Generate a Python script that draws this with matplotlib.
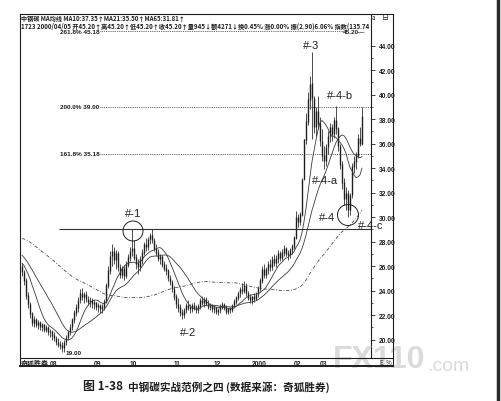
import matplotlib
matplotlib.use("Agg")
import matplotlib.pyplot as plt
import pandas as pd
from matplotlib.patches import Circle

plt.rcParams["font.family"] = ["Noto Sans CJK SC", "DejaVu Sans"]

W, H = 501, 402
INK = "#1e1e1e"

# closes before the first shown bar, only there so the averages start warm
warmup_closes = [
    27.6, 28.0, 28.4, 28.9, 29.3, 29.0, 29.5, 29.9, 29.4, 29.8,
    29.2, 29.6, 29.1, 28.7, 29.2, 28.8, 29.3, 28.9, 28.6, 29.0,
    29.4, 28.9, 29.2, 29.6, 29.9, 29.3, 28.8, 29.2, 28.7, 28.4,
    29.0, 28.6, 28.9, 28.5, 28.8, 29.1, 28.7, 28.4, 28.9, 28.6,
    28.2, 28.6, 28.3, 28.0,
    28.4, 28.1, 27.8, 28.0, 27.5, 27.2, 27.6, 27.1, 26.8, 27.2,
    26.7, 26.5, 26.9, 26.4, 26.1, 26.5, 26.2, 25.9, 26.3, 26.0,
]

opens = [
    26.0, 25.5, 24.8, 23.6, 22.9, 22.1, 21.4, 21.6, 21.2, 21.4,
    21.0, 21.2, 20.8, 21.0, 20.6, 20.7, 20.3, 20.1, 19.8, 19.6,
    19.5, 19.3, 19.8, 20.2, 20.6, 21.0, 21.6, 22.2, 22.6, 23.2,
    23.8, 23.5, 23.7, 23.3, 23.1, 23.2, 22.9, 23.0, 22.7, 22.8,
    22.5, 22.7, 23.1, 24.4, 25.6, 26.8, 27.2, 26.5, 27.0, 25.9,
    25.3, 25.8, 25.2, 26.1, 26.7, 27.2, 27.4, 26.7, 26.2, 25.9,
    26.5, 27.1, 27.8, 27.6, 28.2, 28.5, 28.1, 27.4, 27.1, 26.6,
    26.8, 26.1, 25.8, 25.6, 25.0, 24.7, 24.1, 23.5, 22.9, 22.6,
    22.2, 22.0, 22.4, 22.8, 22.6, 22.5, 22.8, 22.6, 22.4, 22.7,
    23.2, 23.0, 23.3, 22.9, 22.7, 22.8, 22.5, 22.6, 22.3, 22.4,
    22.7, 22.9, 22.6, 22.3, 22.5, 22.4, 22.8, 23.1, 23.4, 23.8,
    24.1, 24.0, 24.4, 23.8, 23.4, 23.2, 23.5, 23.3, 23.7, 24.2,
    24.8, 25.7, 25.3, 25.7, 26.1, 25.9, 26.5, 26.3, 26.6, 27.0,
    26.7, 27.1, 27.4, 27.0, 26.9, 27.3, 27.6, 28.3, 30.0, 29.6,
    30.2, 33.1, 36.3, 37.8, 39.6, 40.9, 39.7, 37.4, 38.6, 37.6,
    36.2, 35.0, 34.6, 35.7, 36.6, 37.3, 36.8, 37.9, 37.2, 35.8,
    34.3, 32.8, 31.5, 31.9, 30.6, 31.8, 34.1, 34.5, 35.0, 36.4, 36.0,
]
highs = [
    26.3, 25.7, 25.0, 23.9, 23.1, 22.3, 21.9, 21.8, 21.6, 21.5,
    21.4, 21.3, 21.2, 21.1, 20.9, 20.8, 20.6, 20.3, 20.1, 19.9,
    19.8, 20.0, 20.4, 20.8, 21.3, 21.8, 22.4, 22.9, 23.5, 24.1,
    24.2, 23.9, 24.0, 23.6, 23.5, 23.4, 23.2, 23.1, 23.0, 22.9,
    22.9, 23.3, 24.6, 26.0, 27.2, 27.8, 27.6, 27.3, 27.2, 26.2,
    26.0, 26.1, 26.4, 27.0, 27.6, 29.0, 28.1, 27.0, 26.6, 26.8,
    27.4, 28.0, 28.3, 28.4, 28.7, 29.0, 28.3, 27.8, 27.4, 27.0,
    26.9, 26.4, 26.2, 25.8, 25.3, 24.9, 24.4, 23.7, 23.4, 22.9,
    22.5, 22.6, 23.0, 23.2, 22.9, 23.0, 23.1, 22.8, 22.9, 23.4,
    23.6, 23.5, 23.5, 23.2, 23.0, 22.9, 22.8, 22.7, 22.6, 22.9,
    23.1, 23.0, 22.8, 22.6, 22.7, 22.9, 23.3, 23.6, 24.0, 24.3,
    24.6, 24.8, 24.6, 24.0, 23.7, 23.6, 23.8, 23.9, 24.4, 25.0,
    26.0, 26.2, 25.9, 26.4, 26.6, 26.8, 27.0, 26.9, 27.3, 27.2,
    27.4, 27.7, 27.6, 27.3, 27.5, 27.8, 28.5, 30.5, 30.3, 30.4,
    33.2, 36.4, 38.5, 40.2, 41.5, 43.5, 39.9, 39.0, 39.9, 38.2,
    37.2, 35.8, 36.0, 37.0, 37.7, 37.6, 38.2, 39.1, 37.4, 36.0,
    34.6, 33.2, 32.5, 32.2, 32.0, 34.4, 35.0, 35.3, 36.8, 37.4, 39.0,
]
lows = [
    25.2, 24.5, 23.3, 22.6, 21.8, 21.1, 21.0, 21.0, 20.9, 20.8,
    20.7, 20.6, 20.6, 20.4, 20.2, 20.0, 19.9, 19.6, 19.4, 19.2,
    19.0, 19.0, 19.6, 20.0, 20.4, 20.8, 21.4, 21.9, 22.3, 23.0,
    23.2, 23.0, 23.1, 22.8, 22.7, 22.6, 22.5, 22.4, 22.3, 22.2,
    22.2, 22.4, 23.0, 24.2, 25.4, 26.0, 26.2, 25.8, 25.6, 25.0,
    25.0, 24.9, 25.0, 25.9, 26.4, 26.8, 26.5, 25.8, 25.4, 25.6,
    26.2, 26.9, 27.2, 27.3, 27.8, 27.9, 27.2, 26.8, 26.4, 26.2,
    25.9, 25.6, 25.3, 24.8, 24.5, 23.9, 23.2, 22.6, 22.3, 21.9,
    21.7, 21.8, 22.2, 22.4, 22.2, 22.3, 22.4, 22.2, 22.2, 22.5,
    22.8, 22.7, 22.8, 22.5, 22.4, 22.3, 22.2, 22.1, 22.0, 22.2,
    22.5, 22.4, 22.1, 22.1, 22.2, 22.3, 22.6, 22.9, 23.2, 23.5,
    23.7, 23.8, 23.6, 23.2, 23.0, 22.9, 23.1, 23.2, 23.5, 24.0,
    24.6, 25.0, 25.0, 25.4, 25.6, 25.7, 26.0, 25.9, 26.3, 26.4,
    26.5, 26.8, 26.8, 26.5, 26.7, 27.0, 27.4, 28.2, 29.2, 29.4,
    30.1, 33.0, 36.0, 37.5, 38.8, 36.4, 36.9, 36.6, 37.2, 35.8,
    34.6, 33.9, 34.2, 35.2, 36.1, 36.2, 36.5, 36.8, 35.4, 33.9,
    32.3, 31.0, 30.6, 30.0, 30.2, 31.6, 33.6, 33.9, 34.8, 35.8, 35.9,
]
closes = [
    25.5, 24.8, 23.6, 22.9, 22.1, 21.4, 21.6, 21.2, 21.4, 21.0,
    21.2, 20.8, 21.0, 20.6, 20.7, 20.3, 20.1, 19.8, 19.6, 19.5,
    19.3, 19.8, 20.2, 20.6, 21.0, 21.6, 22.2, 22.6, 23.2, 23.8,
    23.5, 23.7, 23.3, 23.1, 23.2, 22.9, 23.0, 22.7, 22.8, 22.5,
    22.7, 23.1, 24.4, 25.6, 26.8, 27.2, 26.5, 27.0, 25.9, 25.3,
    25.8, 25.2, 26.1, 26.7, 27.2, 27.4, 26.7, 26.2, 25.9, 26.5,
    27.1, 27.8, 27.6, 28.2, 28.5, 28.1, 27.4, 27.1, 26.6, 26.8,
    26.1, 25.8, 25.6, 25.0, 24.7, 24.1, 23.5, 22.9, 22.6, 22.2,
    22.0, 22.4, 22.8, 22.6, 22.5, 22.8, 22.6, 22.4, 22.7, 23.2,
    23.0, 23.3, 22.9, 22.7, 22.8, 22.5, 22.6, 22.3, 22.4, 22.7,
    22.9, 22.6, 22.3, 22.5, 22.4, 22.8, 23.1, 23.4, 23.8, 24.1,
    24.0, 24.4, 23.8, 23.4, 23.2, 23.5, 23.3, 23.7, 24.2, 24.8,
    25.7, 25.3, 25.7, 26.1, 25.9, 26.5, 26.3, 26.6, 27.0, 26.7,
    27.1, 27.4, 27.0, 26.9, 27.3, 27.6, 28.3, 30.0, 29.6, 30.2,
    33.1, 36.3, 37.8, 39.6, 40.8, 39.7, 37.4, 38.6, 37.6, 36.2,
    35.0, 34.6, 35.7, 36.6, 37.3, 36.8, 37.9, 37.2, 35.8, 34.3,
    32.8, 31.5, 31.9, 30.6, 31.8, 34.1, 34.5, 35.0, 36.4, 36.0, 38.2,
]

month_pos = [14, 36, 54, 76, 96, 115, 136, 149]
month_labels = ["08", "09", "10", "11", "12", "2000", "02", "03"]
price_ticks = [20, 22, 24, 26, 28, 30, 32, 34, 36, 38, 40, 42, 44]

fib_levels = [45.18, 39.00, 35.18]
fib_labels = ["261.8% 45.18", "200.0% 39.00", "161.8% 35.18"]
fib_ends = [161, 174.5, 174.5]
neck_level = 29.0

header_1 = "中钢碳 MA均线 MA10:37.35↑MA21:35.50↑MA65:31.81↑"
header_2 = ("1723 2000/04/05 开45.20↑高45.20↑低45.20↑收45.20↑量945↓额4271↓"
            "换0.45% 涨0.00% 振(2.90)6.06% 指数(135.74")
caption_no = "图 1-38"
caption = "中钢碳实战范例之四 (数据来源：奇狐胜券)"

# moving averages
n_warm = len(warmup_closes)
all_closes = pd.Series(warmup_closes + closes)
ma10 = all_closes.rolling(10).mean().iloc[n_warm:].to_numpy()
ma21 = all_closes.rolling(21).mean().iloc[n_warm:].to_numpy()
ma65 = all_closes.rolling(65).mean().iloc[n_warm:].to_numpy()
xs = list(range(len(closes)))

fig = plt.figure(figsize=(W / 100, H / 100), dpi=100)
fig.patch.set_facecolor("white")

ax = fig.add_axes([20 / W, 1 - 359 / H, (371 - 20) / W, (359 - 15) / H])
ax.set_xlim(-1, 174.5)
ax.set_ylim(18.506, 46.588)
for side in ["left", "top", "bottom"]:
    ax.spines[side].set_visible(False)
ax.spines["right"].set_linewidth(0.8)
ax.spines["right"].set_color(INK)

# candles
ax.vlines(xs, lows, highs, color=INK, lw=0.55)
body_lo = [min(o, c) for o, c in zip(opens, closes)]
body_hi = [max(o, c) + 0.05 for o, c in zip(opens, closes)]
ax.vlines(xs, body_lo, body_hi, color=INK, lw=1.0)

ax.plot(xs, ma10, color="#3a3a3a", lw=0.6)
ax.plot(xs, ma21, color="#3a3a3a", lw=0.6)
ax.plot(xs, ma65, color="#4a4a4a", lw=0.6, ls=(0, (4, 2, 1, 2)))

for lvl, lab, end in zip(fib_levels, fib_labels, fib_ends):
    ax.hlines(lvl, 39, end, color="#333333", lw=0.6, ls=(0, (1, 1.2)))
    ax.text(19, lvl, lab, fontsize=4.6, family=["Liberation Sans"],
            color=INK, va="center", ha="left", fontweight="bold")
ax.hlines(neck_level, 18.5, 174.5, color="#333333", lw=0.8)

ax.yaxis.tick_right()
ax.set_yticks(price_ticks)
ax.set_yticklabels([f"{v:.2f}" for v in price_ticks])
ax.set_yticks([v + 1 for v in price_ticks[:-1]], minor=True)
ax.tick_params(axis="y", which="major", length=3, width=0.6, pad=2.5,
               labelsize=4.8, colors=INK)
ax.tick_params(axis="y", which="minor", length=1.5, width=0.5, colors=INK)
for t in ax.get_yticklabels():
    t.set_fontweight("bold")
    t.set_family(["Liberation Sans"])

ax.set_xticks(month_pos)
ax.set_xticklabels(month_labels)
ax.tick_params(axis="x", length=0, pad=1.2, labelsize=4.8, colors=INK)
for t in ax.get_xticklabels():
    t.set_horizontalalignment("left")
    t.set_fontweight("bold")
    t.set_family(["Liberation Sans"])

# overlay in pixel coordinates for frame, notes and caption
ov = fig.add_axes([0, 0, 1, 1], zorder=5)
ov.set_xlim(0, W)
ov.set_ylim(H, 0)
ov.axis("off")
ov.patch.set_alpha(0)

frame = dict(color=INK, lw=0.8)
ov.plot([20, 393], [15, 15], **frame)
ov.plot([20, 20], [15, 367], **frame)
ov.plot([393, 393], [15, 367], **frame)
ov.plot([20, 393], [359, 359], **frame)
ov.plot([20, 393], [367, 367], color=INK, lw=1.4)
ov.plot([498, 498], [0, H], color="#2a2a2a", lw=2.5)

renderer = fig.canvas.get_renderer()


def fit_text(x, y, s, width, size, **kw):
    t = ov.text(x, y, s, fontsize=size, va="center", ha="left", color=INK, **kw)
    w = t.get_window_extent(renderer).width
    t.set_fontsize(size * width / w)
    return t


fit_text(21, 18.5, header_1, 164, 5.5, fontweight="bold")
fit_text(21, 26.5, header_2, 348, 5.5, fontweight="bold")
ov.text(343, 32.5, "45.20—", fontsize=4.6, family=["Liberation Sans"],
        fontweight="bold", color=INK, va="center")
ov.text(371.5, 18, "a", fontsize=4.5, color=INK, va="center")
ov.text(382, 18, "日", fontsize=5, color=INK, va="center")
ov.text(21, 363, "奇狐胜券", fontsize=5, fontweight="bold", color=INK, va="center")
ov.text(379, 363, "E", fontsize=4.5, color=INK, va="center")
ov.text(386, 363, "%", fontsize=4.5, color=INK, va="center")
ov.text(66, 354, "19.00", fontsize=4.6, family=["Liberation Sans"],
        fontweight="bold", color=INK, va="center")

notes = [
    ("#-1", 133, 214), ("#-2", 188, 333), ("#-3", 311, 46),
    ("#-4-b", 340, 96), ("#-4-a", 325, 181), ("#-4", 327, 218),
    ("#-4-c", 371, 226),
]
for s, x, y in notes:
    ov.text(x, y, s, fontsize=8, family=["Liberation Sans"], color=INK,
            ha="center", va="center")
ov.add_patch(Circle((133, 232), 10, fill=False, ec=INK, lw=0.7))
ov.add_patch(Circle((348, 216), 10.5, fill=False, ec=INK, lw=0.7))

# watermark of the scanning site, sits behind the frame text
ov.text(333, 360, "FX110", fontsize=23, fontweight="bold",
        family=["Liberation Sans"], color="#d4d4d4", alpha=0.85,
        va="center", ha="left", zorder=0)
ov.text(427, 367, ".com", fontsize=14, family=["Liberation Sans"],
        color="#d4d4d4", alpha=0.85, va="center", ha="left", zorder=0)

fit_text(83, 387, caption_no, 40, 8, fontweight="bold")
fit_text(128, 387, caption, 202, 8, fontweight="bold")

fig.savefig("out.png", dpi=100)
